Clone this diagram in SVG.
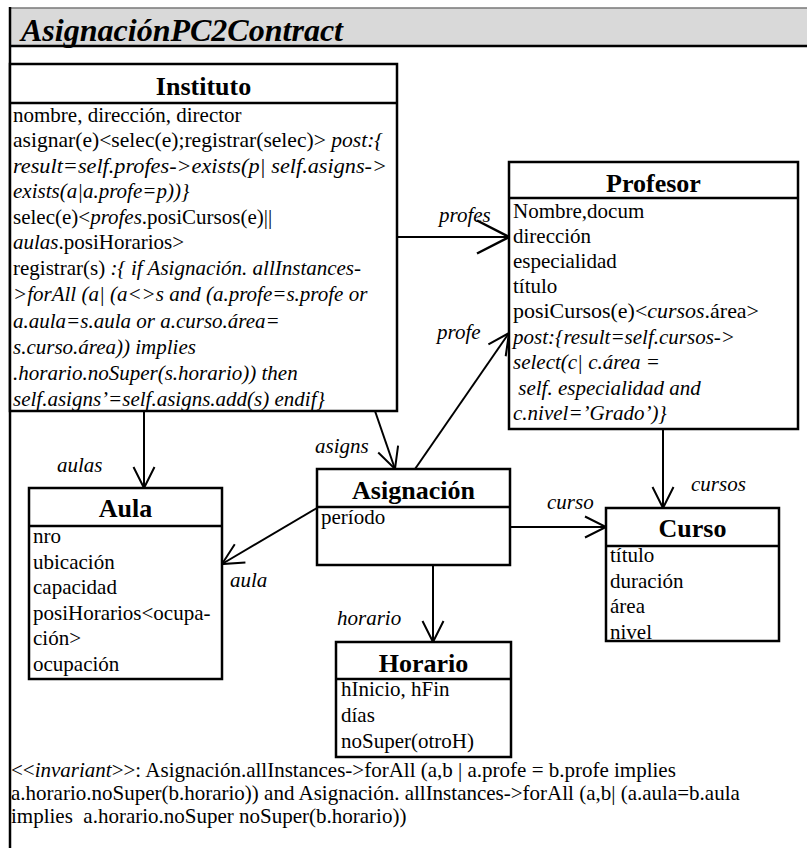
<svg xmlns="http://www.w3.org/2000/svg" width="807" height="848" viewBox="0 0 807 848">
<style>
text{font-family:"Liberation Serif","Times New Roman",serif;fill:#000}
.t{font-size:21px}
.h{font-size:26px;font-weight:bold;text-anchor:middle}
.i{font-style:italic}
.lbl{font-size:21px;font-style:italic}
.box{fill:#fff;stroke:#000;stroke-width:2.5}
.sep{stroke:#000;stroke-width:2.5}
.con{fill:none;stroke:#000;stroke-width:2}
</style>
<defs>
<marker id="arr" markerUnits="userSpaceOnUse" viewBox="-25 -15 30 30" markerWidth="30" markerHeight="30" refX="0" refY="0" orient="auto" overflow="visible">
<path d="M-21,-10.5 L0,0 L-21,10.5" fill="none" stroke="#000" stroke-width="2"/>
</marker>
<marker id="arrL" markerUnits="userSpaceOnUse" viewBox="-35 -20 40 40" markerWidth="40" markerHeight="40" refX="0" refY="0" orient="auto" overflow="visible">
<path d="M-32,-16.5 L0,0 L-32,16.5" fill="none" stroke="#000" stroke-width="2.5"/>
</marker>
</defs>
<rect width="807" height="848" fill="#fff"/>
<g id="frame">
<rect x="10" y="8" width="797" height="38" fill="#d9d9d9"/>
<line x1="10" y1="8" x2="807" y2="8" stroke="#777" stroke-width="1.5"/>
<text x="21" y="41" font-size="31" font-weight="bold" font-style="italic" textLength="322" lengthAdjust="spacingAndGlyphs">AsignaciónPC2Contract</text>
<line x1="10" y1="46" x2="807" y2="46" stroke="#000" stroke-width="2.5"/>
<line x1="10" y1="7" x2="10" y2="848" stroke="#000" stroke-width="2.5"/>
</g>
<g id="connectors">
<line class="con" x1="397" y1="237" x2="509" y2="237" marker-end="url(#arrL)"/>
<line class="con" x1="144" y1="411" x2="144" y2="488" marker-end="url(#arr)"/>
<line class="con" x1="375" y1="411" x2="395" y2="469" marker-end="url(#arr)"/>
<line class="con" x1="415" y1="469" x2="509" y2="333" marker-end="url(#arr)"/>
<line class="con" x1="317" y1="508" x2="222" y2="564" marker-end="url(#arr)"/>
<line class="con" x1="510" y1="527" x2="606" y2="527" marker-end="url(#arr)"/>
<line class="con" x1="663" y1="429" x2="663" y2="508" marker-end="url(#arr)"/>
<line class="con" x1="433" y1="565" x2="433" y2="642" marker-end="url(#arr)"/>
<text class="lbl" x="439" y="222">profes</text>
<text class="lbl" x="437" y="339">profe</text>
<text class="lbl" x="57" y="472">aulas</text>
<text class="lbl" x="315" y="453">asigns</text>
<text class="lbl" x="230" y="587">aula</text>
<text class="lbl" x="547" y="509">curso</text>
<text class="lbl" x="691" y="491">cursos</text>
<text class="lbl" x="337" y="625">horario</text>
</g>
<g id="instituto">
<rect class="box" x="10" y="64" width="387" height="347"/>
<line class="sep" x1="10" y1="103" x2="397" y2="103"/>
<text class="h" x="203.5" y="95">Instituto</text>
<text class="t" x="13" y="121.5">nombre, dirección, director</text>
<text class="t" x="13" y="147" textLength="370" lengthAdjust="spacingAndGlyphs">asignar(e)&lt;selec(e);registrar(selec)&gt; <tspan class="i">post:{</tspan></text>
<text class="t i" x="13" y="172.5" textLength="374" lengthAdjust="spacingAndGlyphs">result=self.profes-&gt;exists(p| self.asigns-&gt;</text>
<text class="t i" x="13" y="198">exists(a|a.profe=p))}</text>
<text class="t" x="13" y="223.5">selec(e)&lt;<tspan class="i">profes</tspan>.posiCursos(e)||</text>
<text class="t" x="13" y="249"><tspan class="i">aulas</tspan>.posiHorarios&gt;</text>
<text class="t" x="13" y="274.5">registrar(s) <tspan class="i">:{ if Asignación. allInstances-</tspan></text>
<text class="t i" x="13" y="301">&gt;forAll (a| (a&lt;&gt;s and (a.profe=s.profe or</text>
<text class="t i" x="13" y="327.5">a.aula=s.aula or a.curso.área=</text>
<text class="t i" x="13" y="354">s.curso.área)) implies</text>
<text class="t i" x="13" y="380">.horario.noSuper(s.horario)) then</text>
<text class="t i" x="13" y="406">self.asigns’=self.asigns.add(s) endif}</text>
</g>
<g id="profesor">
<rect class="box" x="509" y="162" width="289" height="267"/>
<line class="sep" x1="509" y1="198" x2="798" y2="198"/>
<text class="h" x="653.5" y="192">Profesor</text>
<text class="t" x="513" y="218">Nombre,docum</text>
<text class="t" x="513" y="243">dirección</text>
<text class="t" x="513" y="268">especialidad</text>
<text class="t" x="513" y="293">título</text>
<text class="t" x="513" y="318" textLength="246" lengthAdjust="spacingAndGlyphs">posiCursos(e)&lt;<tspan class="i">cursos</tspan>.área&gt;</text>
<text class="t i" x="513" y="344">post:{result=self.cursos-&gt;</text>
<text class="t i" x="513" y="369">select(c| c.área =</text>
<text class="t i" x="513" y="395" xml:space="preserve"> self. especialidad and</text>
<text class="t i" x="513" y="420">c.nivel=’Grado’)}</text>
</g>
<g id="aula">
<rect class="box" x="29" y="488" width="193" height="191"/>
<line class="sep" x1="29" y1="526" x2="222" y2="526"/>
<text class="h" x="125.5" y="517">Aula</text>
<text class="t" x="33" y="543">nro</text>
<text class="t" x="33" y="568.5">ubicación</text>
<text class="t" x="33" y="594">capacidad</text>
<text class="t" x="33" y="619.5">posiHorarios&lt;ocupa-</text>
<text class="t" x="33" y="645">ción&gt;</text>
<text class="t" x="33" y="670.5">ocupación</text>
</g>
<g id="asignacion">
<rect class="box" x="317" y="469" width="193" height="96"/>
<line class="sep" x1="317" y1="507" x2="510" y2="507"/>
<text class="h" x="413.5" y="499">Asignación</text>
<text class="t" x="321" y="524">período</text>
</g>
<g id="curso">
<rect class="box" x="606" y="508" width="173" height="133"/>
<line class="sep" x1="606" y1="546" x2="779" y2="546"/>
<text class="h" x="692.5" y="537">Curso</text>
<text class="t" x="610" y="562">título</text>
<text class="t" x="610" y="587.5">duración</text>
<text class="t" x="610" y="613">área</text>
<text class="t" x="610" y="638.5">nivel</text>
</g>
<g id="horario">
<rect class="box" x="336" y="642" width="175" height="115"/>
<line class="sep" x1="336" y1="679" x2="511" y2="679"/>
<text class="h" x="423.5" y="672">Horario</text>
<text class="t" x="341" y="696">hInicio, hFin</text>
<text class="t" x="341" y="722">días</text>
<text class="t" x="341" y="748">noSuper(otroH)</text>
</g>
<g id="invariant">
<text class="t" x="11" y="777">&lt;&lt;<tspan class="i">invariant</tspan>&gt;&gt;: Asignación.allInstances-&gt;forAll (a,b | a.profe = b.profe implies</text>
<text class="t" x="11" y="800">a.horario.noSuper(b.horario)) and Asignación. allInstances-&gt;forAll (a,b| (a.aula=b.aula</text>
<text class="t" x="11" y="823" xml:space="preserve">implies  a.horario.noSuper noSuper(b.horario))</text>
</g>
</svg>
